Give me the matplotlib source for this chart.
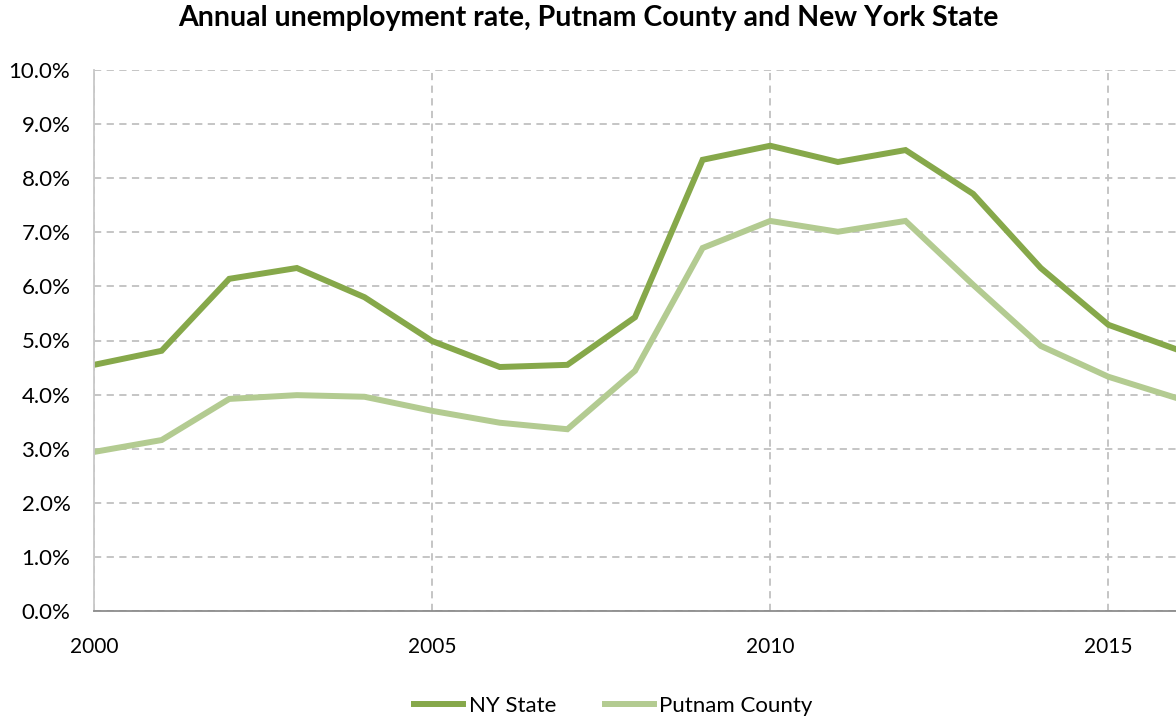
import numpy as np
import matplotlib
matplotlib.use('Agg')
import matplotlib.pyplot as plt
from matplotlib.ticker import FuncFormatter, MultipleLocator

plt.rcParams['font.family'] = ['Lato', 'DejaVu Sans']

years = [2000, 2001, 2002, 2003, 2004, 2005, 2006, 2007, 2008,
         2009, 2010, 2011, 2012, 2013, 2014, 2015, 2016]
ny_state = [4.55, 4.81, 6.14, 6.34, 5.80, 4.99, 4.51, 4.55, 5.43,
            8.34, 8.60, 8.30, 8.52, 7.71, 6.34, 5.29, 4.84]
putnam = [2.94, 3.16, 3.92, 3.99, 3.96, 3.70, 3.48, 3.36, 4.44,
          6.71, 7.21, 7.01, 7.21, 6.03, 4.90, 4.33, 3.94]

fig = plt.figure(figsize=(11.76, 7.19), dpi=100)
ax = fig.add_axes([94 / 1176, 108 / 719, 1 - 94 / 1176, (611 - 70) / 719])

ax.plot(years, ny_state, color='#86A84A', linewidth=4.3, label='NY State', solid_joinstyle='miter')
ax.plot(years, putnam, color='#B3CB91', linewidth=4.3, label='Putnam County', solid_joinstyle='miter')

ax.set_xlim(2000, 2016)
ax.set_ylim(0, 10)
ax.xaxis.set_major_locator(MultipleLocator(5))
ax.yaxis.set_major_locator(MultipleLocator(1))
ax.yaxis.set_major_formatter(FuncFormatter(lambda v, p: f'{v:.1f}%'))

ax.grid(True, color='#C0C0C0', linestyle=(0, (4, 3)), linewidth=1.3)
ax.set_axisbelow(True)
ax.spines['top'].set_visible(False)
ax.spines['right'].set_visible(False)
ax.spines['left'].set_color('#C8C8C8')
ax.spines['left'].set_linewidth(1.3)
ax.spines['bottom'].set_color('#8C8C8C')
ax.spines['bottom'].set_linewidth(1.3)
ax.tick_params(axis='both', length=0, colors='black')
ax.tick_params(axis='x', pad=19, labelsize=15)
ax.tick_params(axis='y', pad=17, labelsize=16)

# title centred on the figure, not on the axes
fig.text(0.5, 1 - 18 / 719, 'Annual unemployment rate, Putnam County and New York State',
         fontsize=20.5, fontweight='bold', ha='center', va='center')

ax.legend(loc='upper center', bbox_to_anchor=(0.48, -0.12), ncol=2, frameon=False,
          fontsize=16, handlelength=2.2, handletextpad=0.25, columnspacing=2.2)

fig.savefig('out.png', dpi=100)
